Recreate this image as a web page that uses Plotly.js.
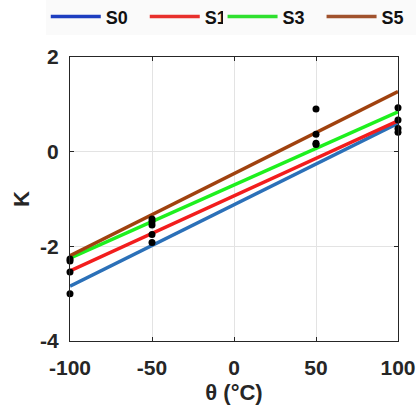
<!DOCTYPE html>
<html><head><meta charset="utf-8">
<script src="https://cdn.plot.ly/plotly-3.0.1.min.js"></script>
<style>html,body{margin:0;padding:0;background:#fff;}#chart{width:416px;height:411px;}</style>
</head><body><div id="chart"></div>
<script>
const seriesNames = ['S0', 'S1', 'S3', 'S5'];
const lineTheta = [-100, 100];
const S0 = [-2.84, 0.60];
const S1 = [-2.52, 0.65];
const S3 = [-2.25, 0.84];
const S5 = [-2.20, 1.27];
const pointTheta = [-100, -100, -100, -100, -50, -50, -50, -50, -50, 50, 50, 50, 50, 100, 100, 100, 100];
const pointK = [-2.27, -2.31, -2.54, -3.00, -1.42, -1.48, -1.55, -1.75, -1.92, 0.90, 0.37, 0.18, 0.15, 0.93, 0.67, 0.49, 0.41];
const xTicks = [-100, -50, 0, 50, 100];
const yTicks = [-4, -2, 0, 2];

const lineColors = ['#2b70b8', '#f21d1d', '#1ef01e', '#a0420f'];
const legendColors = ['#1d3ec0', '#e8302c', '#2ee02e', '#a0522d'];
const legendIds = ['legend', 'legend', 'legend2', 'legend2'];
const lineSets = [S0, S1, S3, S5];

const traces = [];
lineSets.forEach((ys, i) => {
  traces.push({x: lineTheta, y: ys, mode: 'lines', type: 'scatter', line: {color: lineColors[i], width: 3.5}, showlegend: false, hoverinfo: 'skip'});
});
traces.push({x: pointTheta, y: pointK, mode: 'markers', type: 'scatter', marker: {color: '#000', size: 7}, showlegend: false, cliponaxis: false});
seriesNames.forEach((n, i) => {
  traces.push({x: [null], y: [null], mode: 'lines', type: 'scatter', name: n, legend: legendIds[i], line: {color: legendColors[i], width: 3.5}});
});

const fam = 'Liberation Sans, Arial, sans-serif';
const legendBase = {orientation: 'h', xref: 'container', yref: 'container', xanchor: 'left', y: 0.959, yanchor: 'middle',
  font: {family: fam, size: 18, color: '#111', weight: 'bold'}, bgcolor: 'rgba(250,250,250,1)',
  itemwidth: 50, entrywidth: 34, entrywidthmode: 'pixels', tracegroupgap: 0};
const layout = {
  width: 416, height: 411,
  margin: {l: 70, r: 18, t: 57, b: 70},
  paper_bgcolor: '#fff', plot_bgcolor: '#fff',
  showlegend: true,
  legend: Object.assign({}, legendBase, {x: 0.11}),
  legend2: Object.assign({}, legendBase, {x: 0.535}),
  xaxis: {range: [-100, 100], tickvals: xTicks, ticktext: xTicks.map(String),
    tickfont: {family: fam, size: 21, color: '#262626', weight: 'bold'},
    title: {text: 'θ (°C)', font: {family: fam, size: 22, color: '#262626', weight: 'bold'}, standoff: 6},
    showgrid: true, gridcolor: '#e3e3e3', gridwidth: 1, zeroline: false, ticklabelstandoff: 8,
    showline: true, linecolor: '#262626', linewidth: 1.2, mirror: 'ticks', ticks: 'inside', ticklen: 4, tickcolor: '#262626'},
  yaxis: {range: [-4, 2], tickvals: yTicks, ticktext: yTicks.map(String),
    tickfont: {family: fam, size: 21, color: '#262626', weight: 'bold'},
    title: {text: 'K', font: {family: fam, size: 22, color: '#262626', weight: 'bold'}, standoff: 4},
    showgrid: true, gridcolor: '#e3e3e3', gridwidth: 1, zeroline: false, ticklabelstandoff: 6,
    showline: true, linecolor: '#262626', linewidth: 1.2, mirror: 'ticks', ticks: 'inside', ticklen: 4, tickcolor: '#262626'}
};
Plotly.newPlot('chart', traces, layout, {displayModeBar: false, staticPlot: true});
</script></body></html>
